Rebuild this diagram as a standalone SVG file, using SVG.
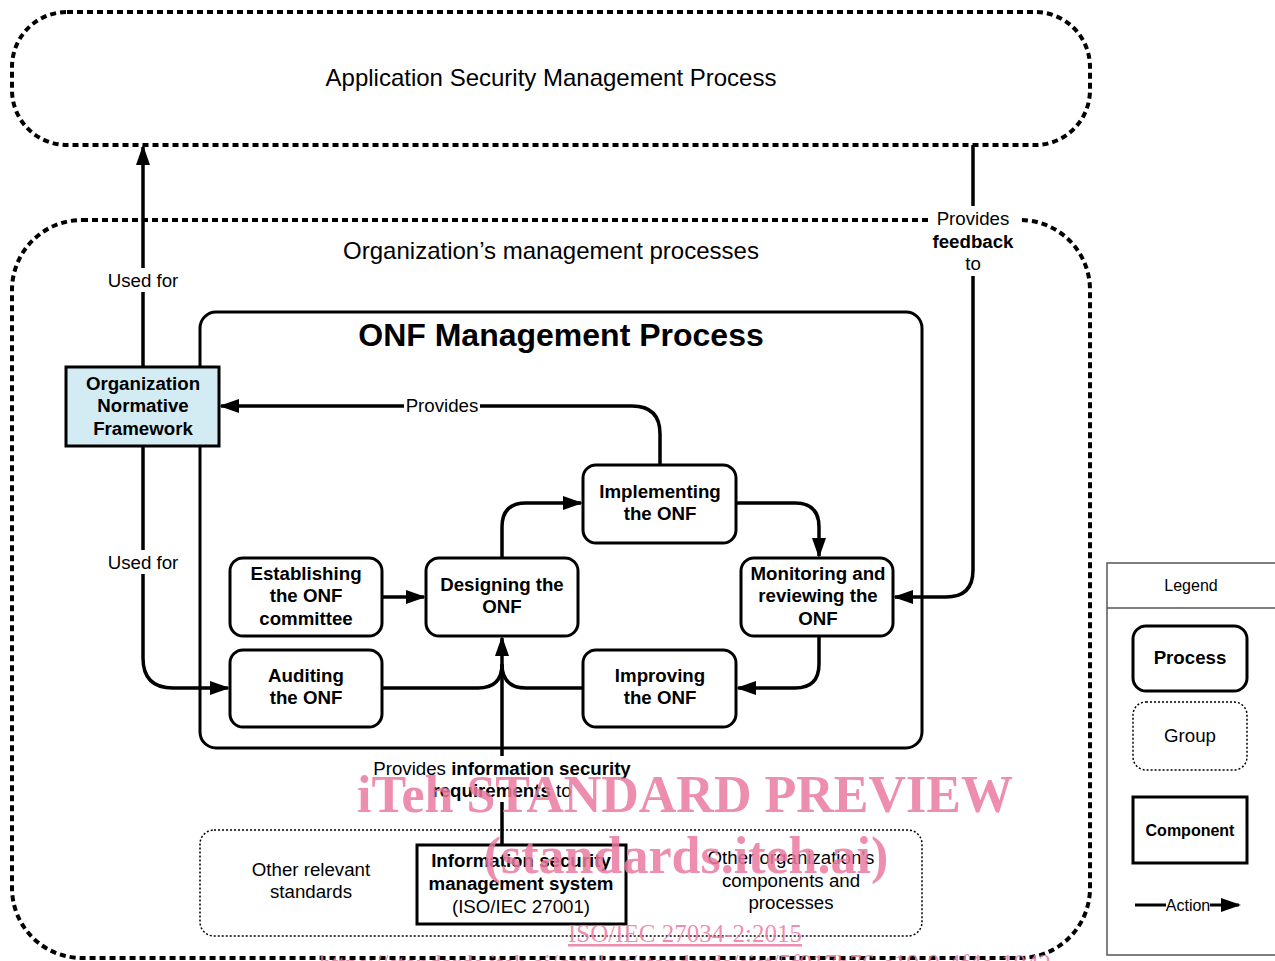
<svg xmlns="http://www.w3.org/2000/svg" width="1275" height="961" viewBox="0 0 1275 961">
  <defs>
    <marker id="arrow" markerUnits="userSpaceOnUse" markerWidth="20" markerHeight="16" refX="18" refY="8" orient="auto">
      <path d="M0,1 L20,8 L0,15 Z" fill="#000"/>
    </marker>
    <style>
      text { font-family: "Liberation Sans", Arial, sans-serif; fill: #000; }
      .big { font-size: 24px; text-anchor: middle; }
      .lbl { font-size: 18.7px; text-anchor: middle; }
      .node { font-size: 18.7px; font-weight: bold; text-anchor: middle; }
      .proc { fill: #fff; stroke: #000; stroke-width: 3; }
      .group { fill: none; stroke: #000; stroke-width: 4; stroke-dasharray: 6 4; }
      .thin-group { fill: none; stroke: #000; stroke-width: 1.5; stroke-dasharray: 2 2; }
      .conn { fill: none; stroke: #000; stroke-width: 3.5; }
      .mask { fill: #fff; }
      .wm { font-family: "Liberation Serif", "Times New Roman", serif; fill: #ea7aa0; fill-opacity: 0.85; text-anchor: middle; font-weight: bold; }
    </style>
  </defs>

  <rect width="1275" height="961" fill="#fff"/>

  <!-- outer groups -->
  <g id="app-security-process">
    <rect class="group" x="12" y="12" width="1078" height="133" rx="55" ry="55"/>
    <text class="big" x="551" y="86">Application Security Management Process</text>
  </g>

  <g id="org-management-processes">
    <rect class="group" x="12" y="220" width="1078" height="738" rx="70" ry="70"/>
    <text class="big" x="551" y="259">Organization’s management processes</text>
  </g>

  <g id="onf-management-process">
    <rect class="proc" x="200" y="312" width="722" height="436" rx="16" ry="16"/>
    <text x="561" y="346" style="font-size:32px;font-weight:bold;text-anchor:middle">ONF Management Process</text>
  </g>

  <g id="other-components-group">
    <rect class="thin-group" x="200" y="830" width="722" height="106" rx="14" ry="14"/>
    <text class="lbl" x="311" y="876">Other relevant</text>
    <text class="lbl" x="311" y="898">standards</text>
    <text class="lbl" x="791" y="864">Other organization’s</text>
    <text class="lbl" x="791" y="887">components and</text>
    <text class="lbl" x="791" y="909">processes</text>
  </g>

  <!-- connectors -->
  <g id="connectors">
    <!-- ONF framework used for the application security process -->
    <path class="conn" d="M143,367 L143,147" marker-end="url(#arrow)"/>
    <!-- ONF framework used for auditing -->
    <path class="conn" d="M143,446 L143,658 Q143,688 173,688 L228,688" marker-end="url(#arrow)"/>
    <!-- implementing provides the framework -->
    <path class="conn" d="M660,465 L660,434 Q660,406 632,406 L221,406" marker-end="url(#arrow)"/>
    <!-- feedback from the application security process -->
    <path class="conn" d="M973,145 L973,570 Q973,597 946,597 L895,597" marker-end="url(#arrow)"/>
    <!-- establishing -> designing -->
    <path class="conn" d="M382,597 L424,597" marker-end="url(#arrow)"/>
    <!-- designing -> implementing -->
    <path class="conn" d="M502,558 L502,527 Q502,503 526,503 L581,503" marker-end="url(#arrow)"/>
    <!-- implementing -> monitoring -->
    <path class="conn" d="M736,503 L795,503 Q819,503 819,527 L819,556" marker-end="url(#arrow)"/>
    <!-- monitoring -> improving -->
    <path class="conn" d="M819,636 L819,664 Q819,688 795,688 L738,688" marker-end="url(#arrow)"/>
    <!-- improving and auditing -> designing -->
    <path class="conn" d="M583,688 L526,688 Q502,688 502,664"/>
    <path class="conn" d="M382,688 L478,688 Q502,688 502,664"/>
    <!-- ISMS provides requirements -->
    <path class="conn" d="M502,845 L502,638" marker-end="url(#arrow)"/>
  </g>

  <!-- connector labels -->
  <g id="connector-labels">
    <rect class="mask" x="104" y="268" width="78" height="24"/>
    <text class="lbl" x="143" y="287">Used for</text>
    <rect class="mask" x="104" y="550" width="78" height="24"/>
    <text class="lbl" x="143" y="569">Used for</text>
    <rect class="mask" x="404" y="395" width="76" height="22"/>
    <text class="lbl" x="442" y="412">Provides</text>
    <rect class="mask" x="930" y="206" width="88" height="70"/>
    <text class="lbl" x="973" y="225">Provides</text>
    <text class="lbl" x="973" y="248" font-weight="bold">feedback</text>
    <text class="lbl" x="973" y="270">to</text>
    <rect class="mask" x="366" y="756" width="272" height="46"/>
    <text class="lbl" x="502" y="775">Provides <tspan font-weight="bold">information security</tspan></text>
    <text class="lbl" x="502" y="797"><tspan font-weight="bold">requirements</tspan> to</text>
  </g>

  <!-- nodes -->
  <g id="onf-framework">
    <rect x="66" y="367" width="153" height="79" fill="#d3ebf3" stroke="#000" stroke-width="3"/>
    <text class="node" x="143" y="390">Organization</text>
    <text class="node" x="143" y="412">Normative</text>
    <text class="node" x="143" y="435">Framework</text>
  </g>

  <g id="implementing">
    <rect class="proc" x="583" y="465" width="153" height="78" rx="13" ry="13"/>
    <text class="node" x="660" y="498">Implementing</text>
    <text class="node" x="660" y="520">the ONF</text>
  </g>

  <g id="establishing">
    <rect class="proc" x="230" y="558" width="152" height="78" rx="13" ry="13"/>
    <text class="node" x="306" y="580">Establishing</text>
    <text class="node" x="306" y="602">the ONF</text>
    <text class="node" x="306" y="625">committee</text>
  </g>

  <g id="designing">
    <rect class="proc" x="426" y="558" width="152" height="78" rx="13" ry="13"/>
    <text class="node" x="502" y="591">Designing the</text>
    <text class="node" x="502" y="613">ONF</text>
  </g>

  <g id="monitoring">
    <rect class="proc" x="741" y="558" width="152" height="78" rx="13" ry="13"/>
    <text class="node" x="818" y="580">Monitoring and</text>
    <text class="node" x="818" y="602">reviewing the</text>
    <text class="node" x="818" y="625">ONF</text>
  </g>

  <g id="auditing">
    <rect class="proc" x="230" y="650" width="152" height="77" rx="13" ry="13"/>
    <text class="node" x="306" y="682">Auditing</text>
    <text class="node" x="306" y="704">the ONF</text>
  </g>

  <g id="improving">
    <rect class="proc" x="583" y="650" width="153" height="77" rx="13" ry="13"/>
    <text class="node" x="660" y="682">Improving</text>
    <text class="node" x="660" y="704">the ONF</text>
  </g>

  <g id="isms">
    <rect class="proc" x="417" y="845" width="209" height="79"/>
    <text class="node" x="521" y="867">Information security</text>
    <text class="node" x="521" y="890">management system</text>
    <text class="lbl" x="521" y="913">(ISO/IEC 27001)</text>
  </g>

  <!-- legend -->
  <g id="legend">
    <rect x="1107" y="563" width="180" height="392" fill="#fff" stroke="#555" stroke-width="1.5"/>
    <line x1="1107" y1="608" x2="1287" y2="608" stroke="#555" stroke-width="1.5"/>
    <text x="1191" y="591" style="font-size:16px;text-anchor:middle">Legend</text>
    <rect class="proc" x="1133" y="626" width="114" height="65" rx="13" ry="13"/>
    <text class="node" x="1190" y="664">Process</text>
    <rect class="thin-group" x="1133" y="702" width="114" height="68" rx="13" ry="13"/>
    <text class="lbl" x="1190" y="742">Group</text>
    <rect class="proc" x="1133" y="797" width="114" height="66"/>
    <text x="1190" y="836" style="font-size:16px;font-weight:bold;text-anchor:middle">Component</text>
    <line x1="1135" y1="905" x2="1166" y2="905" stroke="#000" stroke-width="3"/>
    <text x="1188" y="911" style="font-size:16px;text-anchor:middle">Action</text>
    <line x1="1210" y1="905" x2="1239" y2="905" stroke="#000" stroke-width="3" marker-end="url(#arrow)"/>
  </g>

  <!-- publisher watermark -->
  <g id="watermark">
    <text class="wm" x="685" y="812" style="font-size:52px">iTeh STANDARD PREVIEW</text>
    <text class="wm" x="686" y="873" style="font-size:52px">(standards.iteh.ai)</text>
    <text class="wm" x="685" y="942" style="font-size:25px;font-weight:normal;text-decoration:underline">ISO/IEC 27034-2:2015</text>
    <text class="wm" x="685" y="972" style="font-size:25px;font-weight:normal">https://standards.iteh.ai/catalog/standards/sist/5f917b76-e19-0-4f4e-1042</text>
  </g>
</svg>
